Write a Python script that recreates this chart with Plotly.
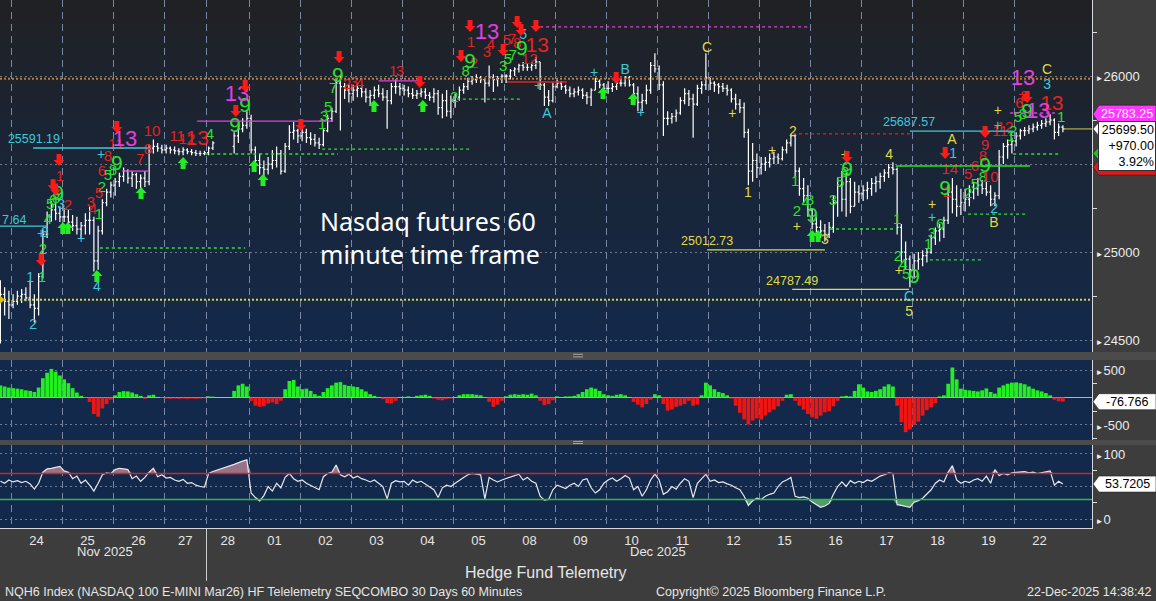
import plotly.graph_objects as go

# ---------------- time axis (60-minute bars grouped 2h per bar) ----------------
day_labels = ["21", "24", "25", "26", "27", "28", "01", "02", "03", "04", "05",
              "08", "09", "10", "11", "12", "15", "16", "17", "18", "19", "22"]
bars_per_day = [3, 12, 12, 12, 10, 10, 12, 12, 12, 12, 12,
                12, 12, 12, 12, 12, 12, 12, 12, 12, 12, 12]
month_labels = ["Nov 2025", "Dec 2025"]
month_label_pos = [24.6, 154.7]

# ---------------- price bars (NQH6) ----------------
opens = [24700,24760,24720,24700,24720,24750,24760,24740,24700,24680,
 24860,25100,25200,25240,25220,25200,25200,25170,25150,25130,
 25150,25180,25180,24950,25120,25280,25340,25380,25400,25430,
 25460,25420,25440,25400,25420,25400,25590,25600,25590,25580,
 25590,25580,25575,25570,25580,25570,25565,25560,25560,25565,
 25590,None,None,None,None,25600,25660,25700,25720,25760,
 25580,25520,25480,25470,25500,25520,25560,25460,25600,25680,
 25690,25660,25680,25650,25640,25620,25610,25690,25760,25800,
 25960,25940,25920,25900,25920,25930,25910,25880,25890,25920,
 25900,25880,25860,25940,25940,25930,25920,25900,25890,25900,
 25910,25890,25880,25900,25820,25860,25800,25860,25880,25920,
 25940,25970,25980,25990,25980,25960,25990,25980,25985,26000,
 26000,26030,26040,26060,26050,26050,26060,26080,25950,25880,
 25860,25940,25960,25940,25920,25900,25910,25920,25890,25880,
 25920,25970,25950,25930,25930,25940,25960,25960,25990,25950,
 25900,25850,25860,25920,26060,26040,25950,25760,25760,25770,
 25790,25860,25900,25870,25840,25930,25950,25990,25960,25950,
 25940,25930,25920,25870,25840,25820,25680,25460,25520,25480,
 25500,25510,25530,25540,25530,25580,25620,25660,25460,25360,
 25320,25240,25160,25140,25120,25100,25140,25280,25380,25300,
 25400,25260,25340,25330,25350,25360,25390,25400,25430,25450,
 25480,25470,25140,25000,24960,24900,24950,24960,24980,25000,
 25080,25120,25130,25180,25340,25300,25260,25280,25300,25340,
 25360,25380,25360,25340,25300,25320,25540,25600,25610,25630,
 25660,25690,25690,25700,25710,25720,25730,25740,25750,25680,
 25710]
highs = [24840,24800,24780,24760,24780,24790,24800,24840,24760,24880,
 25130,25230,25290,25280,25260,25250,25240,25210,25200,25170,
 25220,25260,25200,25150,25300,25360,25400,25420,25450,25480,
 25470,25460,25450,25440,25460,25610,25640,25620,25610,25610,
 25600,25600,25590,25595,25590,25585,25580,25575,25575,25600,
 25630,None,None,None,None,25680,25740,25760,25800,25780,
 25600,25560,25520,25540,25580,25600,25580,25620,25720,25740,
 25700,25710,25700,25680,25670,25650,25700,25780,25820,25990,
 26000,25960,25950,25950,25960,25950,25930,25920,25940,25950,
 25930,25920,25960,25980,25960,25950,25940,25930,25920,25930,
 25930,25910,25930,25920,25900,25920,25890,25900,25940,25960,
 25990,26000,26010,26000,25990,26060,26010,26000,26010,26010,
 26040,26050,26070,26080,26070,26080,26110,26080,25960,25920,
 25960,25980,25970,25950,25940,25930,25940,25930,25910,25930,
 25990,25980,25960,25970,25960,25980,25990,26000,26000,25960,
 25940,25900,25950,26080,26130,26060,25970,25800,25790,25810,
 25880,25930,25920,25900,25950,25970,26130,25990,25970,25960,
 25960,25950,25930,25900,25870,25850,25700,25620,25560,25540,
 25540,25560,25570,25560,25600,25640,25670,25670,25480,25420,
 25380,25250,25200,25180,25160,25170,25320,25420,25460,25450,
 25420,25400,25380,25380,25400,25420,25430,25450,25470,25500,
 25510,25480,25160,25060,24980,24990,25000,25010,25020,25100,
 25140,25160,25200,25380,25420,25380,25360,25360,25380,25400,
 25420,25410,25400,25380,25340,25580,25620,25640,25650,25680,
 25700,25710,25720,25730,25740,25750,25760,25783.25,25760,25730,
 25720]
lows = [24480,24640,24620,24680,24700,24710,24720,24680,24600,24640,
 24850,25080,25170,25180,25170,25170,25150,25120,25100,25080,
 25100,25100,24890,24900,25100,25260,25310,25320,25370,25400,
 25390,25370,25360,25350,25370,25380,25560,25570,25560,25560,
 25560,25555,25550,25550,25555,25550,25545,25545,25550,25550,
 25580,None,None,None,None,25560,25620,25680,25700,25560,
 25480,25440,25430,25440,25470,25480,25440,25450,25580,25640,
 25620,25630,25620,25610,25600,25585,25600,25680,25740,25790,
 25690,25870,25850,25860,25880,25880,25850,25830,25870,25880,
 25860,25700,25840,25900,25890,25890,25880,25870,25870,25880,
 25870,25860,25850,25780,25760,25770,25760,25820,25860,25900,
 25920,25950,25960,25960,25850,25940,25910,25940,25960,25960,
 25980,26000,26020,26030,26030,26030,26040,25920,25830,25830,
 25850,25930,25920,25900,25880,25880,25890,25870,25840,25830,
 25920,25930,25910,25900,25910,25920,25940,25940,25940,25860,
 25800,25800,25840,25900,26020,25920,25660,25720,25730,25740,
 25780,25840,25830,25650,25830,25900,25920,25920,25910,25900,
 25910,25890,25850,25810,25790,25650,25380,25400,25420,25440,
 25460,25480,25500,25500,25520,25560,25600,25420,25320,25280,
 25200,25130,25100,25080,25060,25080,25110,25200,25230,25200,
 25220,25260,25280,25290,25300,25320,25340,25360,25400,25420,
 25440,25100,24940,24900,24800,24850,24900,24920,24940,24990,
 25040,25060,25080,25160,25220,25200,25210,25230,25260,25300,
 25320,25330,25320,25260,25260,25300,25500,25530,25560,25600,
 25640,25660,25670,25680,25690,25700,25710,25720,25640,25660,
 25680]
closes = [24760,24720,24700,24720,24750,24760,24740,24700,24680,24860,
 25100,25200,25240,25220,25200,25200,25170,25150,25130,25150,
 25180,25180,24950,25120,25280,25340,25380,25400,25430,25460,
 25420,25440,25400,25420,25400,25590,25600,25590,25580,25590,
 25580,25575,25570,25580,25570,25565,25560,25560,25565,25590,
 25620,None,None,None,None,25660,25700,25720,25760,25580,
 25520,25480,25470,25500,25520,25560,25460,25600,25680,25690,
 25660,25680,25650,25640,25620,25610,25690,25760,25800,25960,
 25940,25920,25900,25920,25930,25910,25880,25890,25920,25900,
 25880,25860,25940,25940,25930,25920,25900,25890,25900,25910,
 25890,25880,25900,25820,25860,25800,25860,25880,25920,25940,
 25970,25980,25990,25980,25960,25990,25980,25985,26000,26000,
 26030,26040,26060,26050,26050,26060,26080,25950,25880,25860,
 25940,25960,25940,25920,25900,25910,25920,25890,25880,25920,
 25970,25950,25930,25930,25940,25960,25960,25990,25950,25900,
 25850,25860,25920,26060,26040,25950,25760,25760,25770,25790,
 25860,25900,25870,25840,25930,25950,25990,25960,25950,25940,
 25930,25920,25870,25840,25820,25680,25460,25520,25480,25500,
 25510,25530,25540,25530,25580,25620,25660,25460,25360,25320,
 25240,25160,25140,25120,25100,25140,25280,25380,25300,25400,
 25260,25340,25330,25350,25360,25390,25400,25430,25450,25480,
 25470,25140,25000,24960,24900,24950,24960,24980,25000,25080,
 25120,25130,25180,25340,25300,25260,25280,25300,25340,25360,
 25380,25360,25340,25300,25320,25540,25600,25610,25630,25660,
 25690,25690,25700,25710,25720,25730,25740,25750,25680,25710,
 25699.5]

# ---------------- lower panels ----------------
hist_vals = [220,200,180,170,160,150,130,120,100,180,
 350,450,520,470,400,330,260,170,90,30,
 -10,-80,-300,-350,-200,-120,-40,40,100,115,
 110,90,60,30,-25,40,50,10,-10,-20,
 -25,-20,-25,-20,-25,-20,-25,-20,-15,20,
 15,None,None,None,None,120,220,250,200,-60,
 -150,-170,-160,-110,-90,-120,-60,150,300,320,
 200,150,160,120,60,30,100,170,220,270,
 280,230,210,200,190,150,110,60,30,10,
 -30,-100,-110,-60,10,10,20,10,30,40,
 50,30,-20,-40,-50,-30,-20,10,40,60,
 60,60,50,40,10,-80,-170,-130,-60,20,
 50,60,50,60,50,70,40,-60,-140,-120,
 -50,20,10,20,20,30,60,100,150,180,
 160,120,60,40,30,50,60,40,10,-80,
 -130,-180,-120,-40,60,40,-120,-240,-220,-170,
 -150,-120,-60,-150,-130,40,270,220,150,100,
 80,40,-20,-150,-280,-400,-490,-420,-380,-400,
 -330,-270,-220,-160,-60,50,60,-60,-150,-220,
 -300,-360,-385,-330,-270,-250,-160,-60,20,30,
 20,120,240,180,110,100,120,150,200,240,
 200,-150,-450,-630,-580,-500,-440,-330,-230,-180,
 -100,20,40,250,545,330,160,140,130,120,
 110,130,165,100,70,180,220,250,270,275,
 260,240,200,160,130,110,80,40,-40,-70,
 -76.766]
osc_vals = [58,55,60,57,59,56,58,54,46,55,
 72,77,78,80,81,74,72,62,66,55,
 60,52,43,55,68,71,70,76,78,77,
 76,62,66,58,64,72,78,65,68,63,
 64,60,58,61,55,56,52,50,49,70,
 73,None,None,None,None,84,87,89,91,40,
 33,28,36,50,43,55,48,64,70,62,
 58,60,55,52,48,45,65,70,72,83,
 68,65,69,63,66,62,60,57,60,55,
 50,31,55,59,57,58,52,60,56,58,
 54,50,45,33,48,52,50,55,60,64,
 68,70,69,68,31,64,60,57,60,62,
 65,67,69,60,64,58,55,35,29,30,
 45,52,50,47,52,55,50,60,62,48,
 40,45,55,60,63,58,62,67,63,45,
 50,35,45,60,69,60,38,42,50,46,
 55,62,58,33,55,62,69,58,60,56,
 57,54,52,48,45,35,21,28,32,30,
 35,38,40,50,57,60,64,35,33,34,
 32,26,22,18,20,24,38,50,57,50,
 59,55,58,56,60,58,62,66,68,71,
 70,22,21,20,18,26,28,32,38,45,
 55,60,57,72,82,60,55,58,56,60,
 62,58,66,55,76,67,70,68,71,72,
 72,73,71,72,70,71,72,74,52,58,
 53.7205]
osc_upper = 70
osc_lower = 30

# ---------------- reference levels / tags ----------------
prev_close = 24729.50
last_price = 25699.50
net_change = "+970.00"
pct_change = "3.92%"
high_tag = 25783.25
green_tag = 25560.00
red_tag = 25482.00
orange_level = 25985.00
hist_last = -76.766
osc_last = 53.7205

CYAN, MAG, RED, GRN, YEL = "#3cc8dc", "#e040e0", "#e42222", "#2ee02e", "#e2da40"

level_lines = [  # price, x0, x1, colour, dash
    (25147.64, -0.1, 11.2, CYAN, "solid"),
    (25591.19, 7.7, 34.7, CYAN, "solid"),
    (25687.57, 214.0, 238.3, CYAN, "solid"),
    (25460, 28.6, 34.7, MAG, "solid"),
    (25744, 46.3, 78.3, MAG, "solid"),
    (25972, 89.0, 98.7, MAG, "solid"),
    (26279, 127.0, 190.5, MAG, "dot"),
    (25790, 237.6, 248.1, MAG, "dot"),
    (25966, 119.2, 133.3, RED, "solid"),
    (25671, 186.5, 214.0, RED, "dot"),
    (25023, 23.4, 57.6, GRN, "dot"),
    (25557, 48.2, 79.4, GRN, "dot"),
    (25585, 75.7, 110.5, GRN, "dot"),
    (25869, 107.4, 122.3, GRN, "dot"),
    (25131, 195.2, 211.0, GRN, "dot"),
    (24955, 218.7, 231.2, GRN, "dot"),
    (25216, 227.7, 241.6, GRN, "dot"),
    (25557, 238.3, 249.3, GRN, "dot"),
    (25489, 210.7, 242.3, GRN, "solid"),
    (25012.73, 166.3, 194.0, YEL, "solid"),
    (24787.49, 186.3, 213.8, YEL, "solid"),
]
price_labels = [  # text, x, price, colour
    ("25591.19", 7.9, 25636, CYAN),
    ("25687.57", 213.8, 25733, CYAN),
    ("25012.73", 166.3, 25057, YEL),
    ("24787.49", 186.3, 24830, YEL),
]

td_green_small = [("1", 9.8, 24850), ("2", 10.0, 25010), ("4", 11.2, 25180), ("5", 11.7, 25265),
    ("6", 12.4, 25290), ("8", 13.1, 25300), ("1", 23.2, 25210), ("2", 23.9, 25360), ("5", 25.3, 25430),
    ("8", 26.5, 25460), ("4", 49.3, 25665), ("1", 75.7, 25720), ("3", 76.2, 25765), ("5", 77.1, 25815),
    ("7", 78.3, 25925), ("2", 106.8, 25875), ("8", 109.5, 26023), ("3", 118.3, 26051), ("5", 119.4, 26090),
    ("7", 120.6, 26110), ("1", 187.0, 25398), ("2", 187.4, 25227), ("4", 189.5, 25280), ("8", 190.5, 25290),
    ("3", 195.9, 25290), ("5", 197.6, 25392), ("8", 198.7, 25450), ("1", 211.0, 25182), ("2", 211.2, 24972),
    ("4", 212.4, 24926), ("5", 213.1, 24870), ("1", 218.3, 25040), ("3", 219.2, 25100), ("6", 221.1, 25150),
    ("2", 227.7, 25330), ("5", 229.3, 25380), ("8", 231.2, 25420), ("1", 237.8, 25654), ("2", 238.3, 25680),
    ("5", 239.4, 25762), ("8", 240.6, 25780), ("1", 249.6, 25762)]
td_green_nine = [(13.6, 25324), (27.4, 25494), (55.2, 25710), (57.6, 25824), (79.4, 25995), (110.5, 26074),
    (122.7, 26148), (191.0, 25199), (199.2, 25460), (215.0, 24852), (222.3, 25352), (231.7, 25483), (241.6, 25790)]
td_red_small = [("1", 14.0, 25426), ("2", 15.9, 25261), ("3", 21.3, 25279), ("4", 21.8, 25239), ("5", 23.2, 25330),
    ("6", 23.9, 25455), ("8", 25.3, 25540), ("11", 27.2, 25608), ("7", 32.9, 25523), ("8", 34.7, 25580),
    ("10", 35.7, 25682), ("11", 41.6, 25654), ("12", 43.9, 25636), ("2", 81.6, 25949), ("3", 83.2, 25960),
    ("4", 84.6, 25955), ("1", 92.4, 26023), ("3", 94.0, 26023), ("1", 110.7, 26188), ("2", 111.4, 26068),
    ("3", 114.5, 26131), ("4", 115.4, 26176), ("5", 119.2, 26200), ("7", 120.4, 26205), ("8", 121.6, 26180),
    ("12", 124.5, 26090), ("2", 222.7, 25335), ("14", 223.4, 25466), ("5", 227.7, 25438), ("6", 229.3, 25480),
    ("8", 231.2, 25540), ("9", 231.7, 25600), ("10", 232.9, 25420), ("11", 235.2, 25682), ("12", 236.4, 25705),
    ("6", 239.8, 25840), ("7", 240.4, 25865), ("8", 241.0, 25880)]
td_red_13 = [(46.3, 25636), (126.3, 26165), (247.4, 25835)]
td_magenta_13 = [(29.3, 25636), (55.7, 25892), (114.5, 26244), (240.6, 25983), (244.2, 25795)]
cyan_text = [("1", 7.0, 24847), ("2", 7.7, 24585), ("3", 10.5, 25108), ("3", 14.3, 25267), ("4", 22.7, 24796),
    ("5", 123.0, 26233), ("A", 128.6, 25784), ("B", 147.0, 26029), ("C", 213.8, 24744), ("1", 224.2, 25557),
    ("2", 233.8, 25244), ("3", 246.3, 25949)]
cyan_plus = [(9.6, 25102), (19.0, 25074), (23.7, 25546), (126.5, 25938), (139.7, 26017), (150.7, 25790),
    (219.2, 25188), (234.7, 25716)]
yellow_text = [("C", 166.3, 26159), ("1", 175.9, 25335), ("2", 186.5, 25682), ("3", 194.0, 25063),
    ("4", 209.1, 25546), ("5", 213.8, 24659), ("A", 223.9, 25636), ("B", 233.8, 25165), ("C", 246.3, 26029)]
yellow_plus = [(172.2, 25784), (181.6, 25574), (187.4, 25142), (198.7, 25551), (211.4, 24892),
    (219.2, 25267), (234.7, 25801)]
red_arrows = [(9.6, 24955), (12.4, 25380), (13.0, 25355), (13.8, 25523), (27.4, 25710), (55.4, 25801),
    (57.6, 25944), (70.7, 25722), (79.7, 26108), (98.7, 25966), (108.4, 26114), (110.5, 26284), (118.3, 26148),
    (121.6, 26307), (122.5, 26262), (126.0, 26284), (144.9, 25989), (199.2, 25540), (222.3, 25563),
    (231.7, 25682), (241.6, 25881)]
green_arrows = [(14.7, 25137), (15.9, 25137), (22.7, 24864), (33.1, 25335), (43.0, 25506), (59.7, 25489),
    (61.8, 25409), (87.9, 25830), (99.4, 25830), (141.8, 25904), (148.9, 25869), (191.0, 25091), (192.4, 25091)]

# ======================================================================
SANS = "Liberation Sans, Arial, sans-serif"
REG = "Liberation Sans, Arial, sans-serif"

x = list(range(len(closes)))
bounds, centers = [], []
start = 0
for c in bars_per_day:
    centers.append(start + (c - 1) / 2)
    start += c
    bounds.append(start - 0.5)
bounds = bounds[:-1]

fig = go.Figure()

fig.add_trace(go.Ohlc(x=x, open=opens, high=highs, low=lows, close=closes,
                      increasing=dict(line=dict(color="#ffffff", width=1.2)),
                      decreasing=dict(line=dict(color="#ffffff", width=1.2)),
                      tickwidth=0.35, xaxis="x", yaxis="y", hoverinfo="skip"))

def add_text(items, color, size, default=None):
    if default is None:
        txt = [t[0] for t in items]; xs = [t[1] for t in items]; ys = [t[2] for t in items]
    else:
        txt = [default] * len(items); xs = [t[0] for t in items]; ys = [t[1] for t in items]
    fig.add_trace(go.Scatter(x=xs, y=ys, text=txt, mode="text", xaxis="x", yaxis="y",
                             textfont=dict(color=color, size=size, family=REG), hoverinfo="skip"))

add_text(td_green_small, GRN, 15)
add_text(td_red_small, RED, 15)
add_text(td_green_nine, GRN, 21, "9")
add_text(td_red_13, RED, 21, "13")
add_text(td_magenta_13, MAG, 22, "13")
add_text(cyan_text, CYAN, 14)
add_text(cyan_plus, CYAN, 14, "+")
add_text(yellow_text, YEL, 14)
add_text(yellow_plus, YEL, 14, "+")
for t, xx, yy, col in price_labels:
    fig.add_trace(go.Scatter(x=[xx], y=[yy], text=[t], mode="text", xaxis="x", yaxis="y",
                             textfont=dict(color=col, size=12.5, family=SANS), hoverinfo="skip"))

hcol = ["#22ee22" if (v is not None and v >= 0) else "#ee1515" for v in hist_vals]
fig.add_trace(go.Bar(x=x, y=hist_vals, marker=dict(color=hcol, line=dict(width=0)),
                     xaxis="x", yaxis="y2", hoverinfo="skip"))

up_clip = [max(v, osc_upper) if v is not None else None for v in osc_vals]
dn_clip = [min(v, osc_lower) if v is not None else None for v in osc_vals]
fig.add_trace(go.Scatter(x=x, y=[osc_upper] * len(x), mode="lines", line=dict(width=0),
                         xaxis="x", yaxis="y3", hoverinfo="skip"))
fig.add_trace(go.Scatter(x=x, y=up_clip, mode="lines", line=dict(width=0), fill="tonexty",
                         fillcolor="rgba(176,128,146,0.85)", connectgaps=True,
                         xaxis="x", yaxis="y3", hoverinfo="skip"))
fig.add_trace(go.Scatter(x=x, y=[osc_lower] * len(x), mode="lines", line=dict(width=0),
                         xaxis="x", yaxis="y3", hoverinfo="skip"))
fig.add_trace(go.Scatter(x=x, y=dn_clip, mode="lines", line=dict(width=0), fill="tonexty",
                         fillcolor="rgba(96,176,110,0.85)", connectgaps=True,
                         xaxis="x", yaxis="y3", hoverinfo="skip"))
fig.add_trace(go.Scatter(x=x, y=osc_vals, mode="lines", line=dict(color="#e6e8f0", width=1.2),
                         connectgaps=True, xaxis="x", yaxis="y3", hoverinfo="skip"))

shapes = []
top_c, bot_c = (0x20, 0x21, 0x24), (0x13, 0x29, 0x4b)
nb = 44
for k in range(nb):
    t = (k + 0.5) / nb
    col = tuple(round(bot_c[j] + (top_c[j] - bot_c[j]) * t) for j in range(3))
    shapes.append(dict(type="rect", xref="x domain", yref="y domain", x0=0, x1=1,
                       y0=k / nb, y1=(k + 1) / nb + 0.003, fillcolor="rgb(%d,%d,%d)" % col,
                       line=dict(width=0), layer="below"))

shapes.append(dict(type="line", xref="x domain", yref="y", x0=0, x1=1, y0=orange_level, y1=orange_level,
                   line=dict(color="#c8782a", width=2, dash="2px,2px")))
shapes.append(dict(type="line", xref="x domain", yref="y", x0=0, x1=1, y0=prev_close, y1=prev_close,
                   line=dict(color="#d8d048", width=2, dash="2px,2px")))
shapes.append(dict(type="line", xref="x", yref="y", x0=len(x) - 1, x1=257, y0=last_price, y1=last_price,
                   line=dict(color="#d8c850", width=1)))
for p, x0, x1, col, dash in level_lines:
    shapes.append(dict(type="line", xref="x", yref="y", x0=x0, x1=x1, y0=p, y1=p,
                       line=dict(color=col, width=1.3, dash="3px,3px" if dash == "dot" else "solid")))

shapes.append(dict(type="line", xref="x domain", yref="y3", x0=0, x1=1, y0=osc_upper, y1=osc_upper,
                   line=dict(color="#d02525", width=1.6)))
shapes.append(dict(type="line", xref="x domain", yref="y3", x0=0, x1=1, y0=osc_lower, y1=osc_lower,
                   line=dict(color="#20c040", width=1.6)))

DOWN = "M0,-6 L5.5,0 L2.5,0 L2.5,6 L-2.5,6 L-2.5,0 L-5.5,0 Z"
UP = "M0,6 L5.5,0 L2.5,0 L2.5,-6 L-2.5,-6 L-2.5,0 L-5.5,0 Z"
for xx, yy in red_arrows:
    shapes.append(dict(type="path", xref="x", yref="y", xsizemode="pixel", ysizemode="pixel",
                       xanchor=xx, yanchor=yy, path=DOWN, fillcolor="#ff1a1a", line=dict(width=0)))
for xx, yy in green_arrows:
    shapes.append(dict(type="path", xref="x", yref="y", xsizemode="pixel", ysizemode="pixel",
                       xanchor=xx, yanchor=yy, path=UP, fillcolor="#22ee22", line=dict(width=0)))

shapes.append(dict(type="path", xref="x domain", yref="y", xsizemode="pixel", ysizemode="pixel",
                   xanchor=0, yanchor=prev_close, path="M0,4 L5,0 L0,-4 Z", fillcolor="#e0c020",
                   line=dict(width=0)))

for y0, y1 in [(0.3182, 0.3333), (0.1572, 0.1667)]:
    shapes.append(dict(type="rect", xref="paper", yref="paper", x0=0, x1=1.06, y0=y0, y1=y1,
                       fillcolor="#4b4b4b", line=dict(width=0)))
for yy in [0.3290, 0.3240, 0.1640, 0.1600]:
    shapes.append(dict(type="line", xref="paper", yref="paper", x0=0.5247, x1=0.5339, y0=yy, y1=yy,
                       line=dict(color="#a8a8a8", width=1)))

shapes.append(dict(type="line", xref="x", yref="paper", x0=bounds[4], x1=bounds[4], y0=0, y1=-0.1,
                   line=dict(color="#cfcfcf", width=1)))

def tag(yref, price, path, color):
    shapes.append(dict(type="path", xref="paper", yref=yref, xsizemode="pixel", ysizemode="pixel",
                       xanchor=1, yanchor=price, path=path, fillcolor=color,
                       line=dict(color="#202020", width=0.6)))

tag("y", red_tag, "M1,0 L7,-8 L64,-8 L64,8 L7,8 Z", "#e01818")
tag("y", green_tag, "M1,0 L7,-7 L64,-7 L64,7 L7,7 Z", "#22c022")
tag("y", high_tag, "M1,0 L7,-9 L64,-9 L64,9 L7,9 Z", "#ff38ff")
tag("y", last_price, "M1,0 L7,-7 L7,7 Z", "#ffffff")
tag("y2", hist_last, "M1,0 L7,-8 L64,-8 L64,8 L7,8 Z", "#ffffff")
tag("y3", osc_last, "M1,0 L7,-8 L64,-8 L64,8 L7,8 Z", "#ffffff")

TAGF = dict(family=SANS, size=12.5)
annotations = []
annotations.append(dict(xref="paper", yref="y", x=1, xshift=35, xanchor="center", y=red_tag,
                        yanchor="middle", text="%.2f" % red_tag, showarrow=False,
                        font=dict(**TAGF, color="#ffffff")))
annotations.append(dict(xref="paper", yref="y", x=1, xshift=35, xanchor="center", y=high_tag,
                        yanchor="middle", text="%.2f" % high_tag, showarrow=False,
                        font=dict(**TAGF, color="#ffffff")))
annotations.append(dict(xref="paper", yref="y", x=1, xshift=6, xanchor="left", y=last_price, yanchor="top",
                        yshift=8, text="%.2f<br>%s<br>%s" % (last_price, net_change, pct_change), align="right",
                        valign="middle", showarrow=False, bgcolor="#ffffff", bordercolor="#303030",
                        borderwidth=1, borderpad=1, width=54, height=46,
                        font=dict(**TAGF, color="#000000")))
annotations.append(dict(xref="paper", yref="y2", x=1, xshift=35, xanchor="center", y=hist_last,
                        yanchor="middle", text="%.3f" % hist_last, showarrow=False,
                        font=dict(**TAGF, color="#000000")))
annotations.append(dict(xref="paper", yref="y3", x=1, xshift=35, xanchor="center", y=osc_last,
                        yanchor="middle", text="%.4f" % osc_last, showarrow=False,
                        font=dict(**TAGF, color="#000000")))

annotations.append(dict(xref="x", yref="y", x=-0.09, xanchor="left", y=25182, yanchor="middle",
                        text="7.64", showarrow=False, font=dict(family=SANS, size=12.5, color=CYAN)))
annotations.append(dict(xref="paper", yref="y", x=318 / 1092, xanchor="left", y=25080, yanchor="middle",
                        text="Nasdaq futures 60<br>minute time frame", align="left", showarrow=False,
                        font=dict(family="Noto Sans, DejaVu Sans, sans-serif", size=25, color="#ffffff")))

AXF = dict(family=SANS, size=13, color="#e6e6e6")
for lab, pos in zip(month_labels, month_label_pos):
    annotations.append(dict(xref="x", yref="paper", x=pos, xanchor="center", y=-0.044, yanchor="middle",
                            text=lab, showarrow=False, font=AXF))
annotations.append(dict(xref="paper", yref="paper", x=0.5, xanchor="center", y=-0.0852, yanchor="middle",
                        text="Hedge Fund Telemetry", showarrow=False,
                        font=dict(family=SANS, size=16, color="#e6e6e6")))
annotations.append(dict(xref="paper", yref="paper", x=0.0027, xanchor="left", y=-0.121, yanchor="middle",
                        text="NQH6 Index (NASDAQ 100 E-MINI Mar26) HF Telelemetry SEQCOMBO 30 Days 60 Minutes",
                        showarrow=False, font=dict(family=SANS, size=12.5, color="#e6e6e6")))
annotations.append(dict(xref="paper", yref="paper", x=0.7065, xanchor="center", y=-0.121, yanchor="middle",
                        text="Copyright\u00a9 2025 Bloomberg Finance L.P.",
                        showarrow=False, font=dict(family=SANS, size=12.5, color="#e6e6e6")))
annotations.append(dict(xref="paper", yref="paper", x=1.0559, xanchor="right", y=-0.121, yanchor="middle",
                        text="22-Dec-2025 14:38:42",
                        showarrow=False, font=dict(family=SANS, size=12.5, color="#e6e6e6")))

TRI = "<span style='font-size:8px'>\u25BA</span>"
GRID_H = dict(showgrid=True, gridcolor="#6d7a96", griddash="2px,3px", gridwidth=1)
YCOMMON = dict(side="right", anchor="x", showline=True, linecolor="#d8d8d8", linewidth=1, ticks="",
               tickfont=dict(family=SANS, size=13, color="#ececec"), fixedrange=True, automargin=False)

fig.update_layout(
    template="none",
    width=1156, height=601, margin=dict(l=0, r=64, t=0, b=73, pad=0, autoexpand=False),
    paper_bgcolor="#3d3d3d", plot_bgcolor="#13294b", showlegend=False, bargap=0.12,
    xaxis=dict(domain=[0, 1], anchor="y3", range=[-0.09, 256.85], showgrid=False, zeroline=False,
               automargin=False, tickmode="array", tickvals=centers[1:], ticktext=day_labels[1:], ticks="",
               tickfont=AXF, showline=True, linecolor="#d8d8d8", linewidth=1, fixedrange=True,
               rangeslider=dict(visible=False),
               minor=dict(tickmode="array", tickvals=bounds, showgrid=True, gridcolor="#7a87a4",
                          griddash="7px,5px", gridwidth=1, ticks="")),
    yaxis=dict(domain=[0.3333, 1], range=[24432, 26432], tickmode="array",
               tickvals=[24500, 25000, 25500, 26000],
               ticktext=[TRI + "24500", TRI + "25000", "", TRI + "26000"],
               minor=dict(tickmode="array", tickvals=[24750, 25250, 25750, 26250], ticks="outside",
                          ticklen=4, tickcolor="#dddddd", showgrid=False),
               zeroline=False, **GRID_H, **YCOMMON),
    yaxis2=dict(domain=[0.1667, 0.3182], range=[-773, 682], tickmode="array",
                tickvals=[-500, 0, 500], ticktext=[TRI + "-500", "", TRI + "500"],
                minor=dict(tickmode="array", tickvals=[-750, -250, 250], ticks="outside",
                           ticklen=4, tickcolor="#dddddd", showgrid=False),
                zeroline=True, zerolinecolor="#aeb4c4", zerolinewidth=1, **GRID_H, **YCOMMON),
    yaxis3=dict(domain=[0, 0.1572], range=[-13.8, 113.8], tickmode="array",
                tickvals=[0, 50, 100], ticktext=[TRI + "0", "", TRI + "100"],
                minor=dict(tickmode="array", tickvals=[25, 75], ticks="outside",
                           ticklen=4, tickcolor="#dddddd", showgrid=False),
                zeroline=False, **GRID_H, **YCOMMON),
    shapes=shapes, annotations=annotations,
)

fig.write_html("out.html", config={"displayModeBar": False, "staticPlot": True},
               post_script="document.body.style.margin='0';document.body.style.overflow='hidden';")
